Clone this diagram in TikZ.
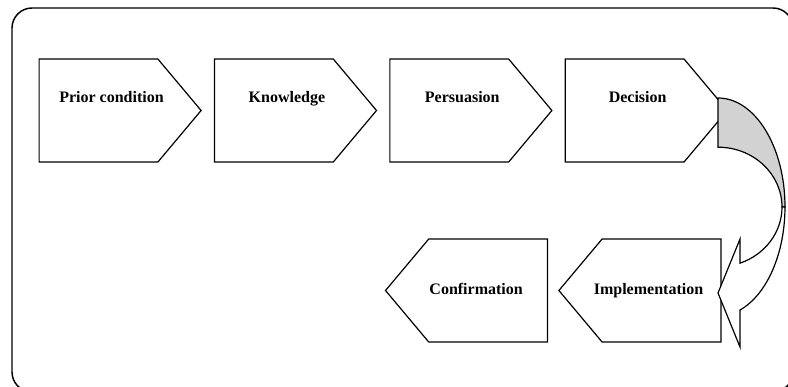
\documentclass[tikz,border=0pt]{standalone}
\usepackage{fontspec}
\setmainfont{Liberation Serif}
\usetikzlibrary{shapes.symbols,positioning}
\definecolor{backgray}{RGB}{210,210,210}
\begin{document}
\begin{tikzpicture}[x=0.75pt,y=-0.75pt,
    stage/.style={draw, line width=0.9pt, signal, signal to=east, signal pointer angle=100,
      minimum width=121.5pt, minimum height=77.25pt, inner sep=0pt, fill=white},
    stageback/.style={stage, signal to=west},
    stagetext/.style={font=\fontsize{12}{14}\selectfont\bfseries, anchor=base, inner sep=0pt},
    node distance=9pt]
  \clip (0,0) rectangle (788,386);
  % frame
  \draw[line width=1.1pt, rounded corners=15pt] (12,8) rectangle (793,392);
  % top row
  \node[stage] (prior) at (98.5,110.5) {};
  \node[stage, right=of prior] (know) {};
  \node[stage, right=of know] (pers) {};
  \node[stage, right=of pers] (deci) {};
  % bottom row
  \node[stageback] (impl) at (661.5,290.5) {};
  \node[stageback, left=7.5pt of impl] (conf) {};
  % labels
  \node[stagetext] (priortxt) at ([shift={(13,-8.5)}]prior.center) {Prior condition};
  \node[stagetext] (knowtxt) at ([shift={(13,-8.5)}]know.center) {Knowledge};
  \node[stagetext] (perstxt) at ([shift={(13,-8.5)}]pers.center) {Persuasion};
  \node[stagetext] (decitxt) at ([shift={(13,-8.5)}]deci.center) {Decision};
  \node[stagetext] (impltxt) at ([shift={(-13,3.5)}]impl.center) {Implementation};
  \node[stagetext] (conftxt) at ([shift={(-12,3.5)}]conf.center) {Confirmation};
  % curved arrow from decision down to implementation
  \coordinate (backtop) at (718,98);
  \coordinate (turn) at (782,207);
  \filldraw[fill=backgray, line width=0.9pt] (backtop)
    arc[start angle=90, end angle=0, x radius=50.25pt, y radius=81.75pt]
    -- (turn) arc[start angle=0, end angle=90, x radius=48pt, y radius=44.85pt] -- cycle;
  \filldraw[fill=white, line width=0.9pt] (turn)
    arc[start angle=0, end angle=-69.9, x radius=48pt, y radius=44.85pt]
    -- (740,239) -- (718,293) -- (740,347) -- (740,310)
    arc[start angle=-70.8, end angle=0, x radius=50.25pt, y radius=81.75pt] -- cycle;
\end{tikzpicture}
\end{document}
